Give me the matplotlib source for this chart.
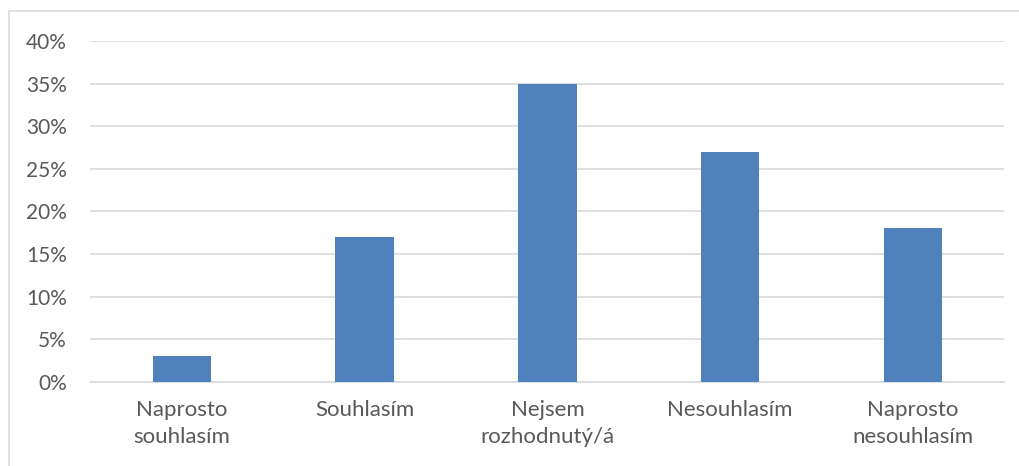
import matplotlib.pyplot as plt
from matplotlib.patches import Rectangle
from matplotlib.ticker import PercentFormatter

plt.rcParams['font.family'] = ['Lato', 'DejaVu Sans']

kategorie = ['Naprosto\nsouhlasím', 'Souhlasím', 'Nejsem\nrozhodnutý/á', 'Nesouhlasím', 'Naprosto\nnesouhlasím']
hodnoty = [3, 17, 35, 27, 18]
y_ticks = [0, 5, 10, 15, 20, 25, 30, 35, 40]

fig = plt.figure(figsize=(10.2, 4.66), dpi=100)
ax = fig.add_axes([0.0887, 0.1803, 0.896, 0.732])

ax.bar(range(len(kategorie)), hodnoty, width=0.32, color='#4F81BD', zorder=3)

ax.set_xlim(-0.5, len(kategorie) - 0.5)
ax.set_ylim(0, 40)
ax.set_yticks(y_ticks)
ax.yaxis.set_major_formatter(PercentFormatter(decimals=0))
ax.set_xticks(range(len(kategorie)))
ax.set_xticklabels(kategorie, linespacing=1.45)

ax.grid(axis='y', color='#D9D9D9', linewidth=1.2, zorder=0)
for s in ['top', 'right', 'left']:
    ax.spines[s].set_visible(False)
ax.spines['bottom'].set_color('#D9D9D9')
ax.spines['bottom'].set_linewidth(1.2)
ax.tick_params(axis='both', length=0, labelcolor='#595959')
ax.tick_params(axis='y', pad=17, labelsize=15)
ax.tick_params(axis='x', pad=13, labelsize=16)

# ramecek grafu
fig.patches.append(Rectangle((9.5 / 1020, -0.1), 1.2, 1 - 11 / 466 + 0.1,
                             transform=fig.transFigure, fill=False,
                             edgecolor='#D9D9D9', linewidth=1.2))

plt.savefig('out.png', dpi=100)
